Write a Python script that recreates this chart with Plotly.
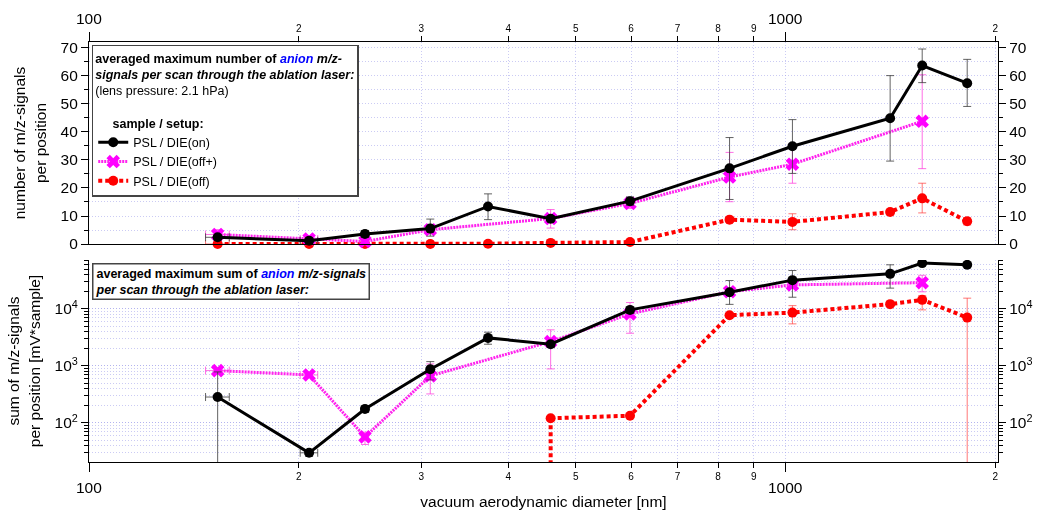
import math
import plotly.graph_objects as go

FONT = "Liberation Sans, Arial, sans-serif"

# ---------------- data ----------------
diameter_nm = [153, 207, 249, 309, 374, 460, 598, 831, 1023, 1413, 1571, 1823]
diameter_err = [6, 6, 3, 3, 0, 0, 0, 0, 0, 0, 0, 0]

# top panel: number of m/z-signals per position
on_num = [2.4, 1.2, 3.6, 5.5, 13.4, 9.0, 15.3, 27.0, 34.9, 44.9, 63.7, 57.4]
on_num_plus = [1.0, 0.8, 1.2, 3.4, 4.5, 1.0, 1.5, 11.0, 9.5, 15.2, 5.9, 8.5]
on_num_minus = [1.0, 0.8, 1.2, 2.7, 4.7, 1.0, 1.5, 11.1, 9.7, 15.3, 6.1, 8.3]

offp_num = [3.4, 1.8, 0.9, 5.1, None, 9.1, 14.5, 23.9, 28.5, None, 43.8, None]
offp_num_plus = [1.7, 0.8, 0.8, 1.5, 0, 3.2, 1.8, 8.8, 7.2, 0, 16.6, 0]
offp_num_minus = [1.7, 0.8, 0.8, 1.5, 0, 3.4, 1.8, 8.8, 6.8, 0, 16.9, 0]

off_num = [0, 0, 0, 0, 0.1, 0.4, 0.7, 8.7, 7.9, 11.4, 16.3, 8.1]
off_num_plus = [0, 0, 0, 0, 0, 0, 0, 1.0, 2.9, 1.0, 5.4, 1.3]
off_num_minus = [0, 0, 0, 0, 0, 0, 0, 1.0, 2.8, 1.0, 5.2, 1.3]

# bottom panel: sum of m/z-signals per position [mV*sample]
on_sum = [285, 30, 176, 875, 3100, 2400, 9600, 19600, 31900, 41100, 63400, 59200]
on_sum_plus = [500, 4, 20, 315, 800, 300, 1200, 11800, 15100, 18100, 0, 0]
on_sum_minus = [284, 4, 20, 307, 700, 300, 1200, 7600, 15900, 18000, 0, 0]

offp_sum = [828, 695, 57, 668, None, 2670, 8170, 20000, 26300, None, 28800, None]
offp_sum_plus = [0, 0, 12, 417, 0, 1620, 4730, 0, 3000, 0, 10000, 0]
offp_sum_minus = [0, 0, 15, 345, 0, 1784, 4430, 0, 3000, 0, 8900, 0]

off_sum = [None, None, None, None, None, 121, 134, 7750, 8600, 12100, 14400, 7030]
off_sum_plus = [0, 0, 0, 0, 0, 0, 0, 0, 2800, 0, 2700, 8370]
off_sum_minus = [0, 0, 0, 0, 0, 0, 0, 0, 3140, 0, 4800, 7029]

x_major = [100, 1000]
x_ticks = [200, 300, 400, 500, 600, 700, 800, 900, 2000]
x_ticktext = ["2", "3", "4", "5", "6", "7", "8", "9", "2"]
y_top_ticks = [0, 10, 20, 30, 40, 50, 60, 70]
y_top_minor = [5, 15, 25, 35, 45, 55, 65]
y_bot_ticks = [100, 1000, 10000]
y_bot_ticktext = ["10<sup>2</sup>", "10<sup>3</sup>", "10<sup>4</sup>"]

X_RANGE = [2.0, 3.305]
Y_TOP_RANGE = [0, 72.1]
Y_BOT_RANGE = [1.316, 4.857]

BLACK = "#000000"
PINK = "#FF22EE"
RED = "#FF0000"
GRID = "rgba(160,160,235,0.55)"
GRIDDASH = "1px,2px"

fig = go.Figure()

def errs(plus, minus, color, width=4):
    return dict(type="data", symmetric=False, array=plus, arrayminus=minus,
                color=color, thickness=1, width=width)

def xerrs(color):
    return dict(type="data", array=diameter_err, color=color, thickness=1, width=4)

# ---- top panel traces (drawn red, pink, black so black is on top) ----
fig.add_trace(go.Scatter(
    x=diameter_nm, y=off_num, name="PSL / DIE(off)", mode="lines+markers",
    line=dict(color=RED, width=4, dash="4px,3px"),
    marker=dict(symbol="circle", size=10, color=RED),
    error_y=errs(off_num_plus, off_num_minus, "rgba(255,60,60,0.7)"),
    error_x=xerrs("rgba(255,60,60,0.7)"),
    cliponaxis=False, xaxis="x", yaxis="y"))
fig.add_trace(go.Scatter(
    x=diameter_nm, y=offp_num, name="PSL / DIE(off+)", mode="lines+markers",
    connectgaps=True,
    line=dict(color=PINK, width=3, dash="2px,1px"),
    marker=dict(symbol="x", size=12, color="#FF00FF", line=dict(width=0)),
    error_y=errs(offp_num_plus, offp_num_minus, "rgba(255,60,220,0.75)"),
    error_x=xerrs("rgba(255,60,220,0.75)"),
    cliponaxis=False, xaxis="x", yaxis="y"))
fig.add_trace(go.Scatter(
    x=diameter_nm, y=on_num, name="PSL / DIE(on)", mode="lines+markers",
    line=dict(color=BLACK, width=3),
    marker=dict(symbol="circle", size=10, color=BLACK),
    error_y=errs(on_num_plus, on_num_minus, "rgba(60,60,60,0.8)"),
    error_x=xerrs("rgba(60,60,60,0.8)"),
    cliponaxis=False, xaxis="x", yaxis="y"))

# ---- bottom panel traces ----
first = next(i for i, v in enumerate(off_sum) if v is not None)
fig.add_trace(go.Scatter(
    x=[diameter_nm[first], diameter_nm[first]],
    y=[off_sum[first], 10 ** Y_BOT_RANGE[0]],
    mode="lines", line=dict(color=RED, width=4, dash="4px,3px"),
    showlegend=False, hoverinfo="skip", xaxis="x2", yaxis="y2"))
fig.add_trace(go.Scatter(
    x=diameter_nm, y=off_sum, mode="lines+markers", showlegend=False,
    line=dict(color=RED, width=4, dash="4px,3px"),
    marker=dict(symbol="circle", size=10, color=RED),
    error_y=errs(off_sum_plus, off_sum_minus, "rgba(255,60,60,0.7)"),
    xaxis="x2", yaxis="y2"))
fig.add_trace(go.Scatter(
    x=diameter_nm, y=offp_sum, mode="lines+markers", showlegend=False,
    connectgaps=True,
    line=dict(color=PINK, width=3, dash="2px,1px"),
    marker=dict(symbol="x", size=12, color="#FF00FF", line=dict(width=0)),
    error_y=errs(offp_sum_plus, offp_sum_minus, "rgba(255,60,220,0.75)"),
    error_x=xerrs("rgba(255,60,220,0.75)"),
    xaxis="x2", yaxis="y2"))
fig.add_trace(go.Scatter(
    x=diameter_nm, y=on_sum, mode="lines+markers", showlegend=False,
    line=dict(color=BLACK, width=3),
    marker=dict(symbol="circle", size=10, color=BLACK),
    error_y=errs(on_sum_plus, on_sum_minus, "rgba(60,60,60,0.8)"),
    error_x=xerrs("rgba(60,60,60,0.8)"),
    xaxis="x2", yaxis="y2"))

# invisible traces to activate right-hand axes
fig.add_trace(go.Scatter(x=diameter_nm, y=on_num, mode="markers", opacity=0,
                         showlegend=False, hoverinfo="skip", xaxis="x", yaxis="y3"))
fig.add_trace(go.Scatter(x=diameter_nm, y=on_sum, mode="markers", opacity=0,
                         showlegend=False, hoverinfo="skip", xaxis="x2", yaxis="y4"))

tickfont = dict(family=FONT, size=15.5, color="black")
smallfont = dict(family=FONT, size=10, color="black")

xcommon = dict(type="log", range=X_RANGE, tickmode="array", tickvals=x_ticks,
               ticktext=x_ticktext, tickfont=smallfont, ticks="outside",
               ticklen=5, tickcolor="black", showline=True, linecolor="black",
               linewidth=1.2, showgrid=True, gridcolor=GRID, griddash=GRIDDASH,
               gridwidth=1, zeroline=False, automargin=False,
               minor=dict(tickmode="array", tickvals=x_major, ticklen=9,
                          ticks="outside", tickcolor="black", showgrid=True,
                          gridcolor=GRID, griddash=GRIDDASH))

ycommon = dict(tickfont=tickfont, ticks="outside", ticklen=7, tickcolor="black",
               showline=True, linecolor="black", linewidth=1.2, zeroline=False,
               automargin=False)

fig.update_layout(
    width=1038, height=510,
    margin=dict(l=89, r=40, t=42, b=48),
    paper_bgcolor="white", plot_bgcolor="white",
    font=dict(family=FONT, color="black"),
    showlegend=True,
    xaxis=dict(**xcommon, side="top", anchor="y", mirror=True),
    xaxis2=dict(**xcommon, side="bottom", anchor="y2", mirror=False,
                title=dict(text="vacuum aerodynamic diameter [nm]",
                           font=dict(family=FONT, size=15.5), standoff=30)),
    yaxis=dict(**ycommon, domain=[0.519, 1], range=Y_TOP_RANGE, anchor="x",
               tickmode="array", tickvals=y_top_ticks,
               showgrid=True, gridcolor=GRID, griddash=GRIDDASH,
               minor=dict(tickmode="array", tickvals=y_top_minor, ticklen=4,
                          ticks="outside", tickcolor="black", showgrid=True,
                          gridcolor=GRID, griddash=GRIDDASH),
               title=dict(text="number of m/z-signals<br>per position",
                          font=dict(family=FONT, size=15.5), standoff=10)),
    yaxis3=dict(**ycommon, overlaying="y", side="right", anchor="x",
                range=Y_TOP_RANGE, tickmode="array", tickvals=y_top_ticks,
                showgrid=False,
                minor=dict(tickmode="array", tickvals=y_top_minor, ticklen=4,
                           ticks="outside", tickcolor="black", showgrid=False)),
    yaxis2=dict(**ycommon, domain=[0, 0.481], type="log", range=Y_BOT_RANGE,
                anchor="x2", tickmode="array", tickvals=y_bot_ticks,
                ticktext=y_bot_ticktext, showgrid=True, gridcolor=GRID,
                griddash=GRIDDASH,
                minor=dict(dtick="D1", ticklen=4, ticks="outside",
                           tickcolor="black", showgrid=True, gridcolor=GRID,
                           griddash=GRIDDASH),
                title=dict(text="sum of m/z-signals<br>per position [mV*sample]",
                           font=dict(family=FONT, size=15.5), standoff=10)),
    yaxis4=dict(**ycommon, overlaying="y2", side="right", anchor="x2",
                type="log", range=Y_BOT_RANGE, tickmode="array",
                tickvals=y_bot_ticks, ticktext=y_bot_ticktext, showgrid=False,
                minor=dict(dtick="D1", ticklen=4, ticks="outside",
                           tickcolor="black", showgrid=False)),
    legend=dict(
        x=0.003, y=0.993, xanchor="left", yanchor="top",
        bgcolor="white", bordercolor="#444444", borderwidth=1.5,
        traceorder="reversed", itemwidth=30, tracegroupgap=0,
        font=dict(family=FONT, size=12.5, color="black"),
        title=dict(
            text=("<b>averaged maximum number of <span style='color:#0000FF'><i>anion</i></span>"
                  " <i>m/z-</i></b><br><b><i>signals per scan through the ablation laser:</i></b>"
                  "<br>(lens pressure: 2.1 hPa)<br>\u00a0<br>\u00a0\u00a0\u00a0\u00a0\u00a0<b>sample / setup:</b>"),
            font=dict(family=FONT, size=12.5, color="black"), side="top"),
    ),
)

# large decade labels on both x axes
for v in x_major:
    fig.add_annotation(x=math.log10(v), y=1.0, xref="x", yref="paper",
                       yshift=24, text=str(v), showarrow=False,
                       font=dict(family=FONT, size=15.5), xanchor="center", yanchor="middle")
    fig.add_annotation(x=math.log10(v), y=0.0, xref="x2", yref="paper",
                       yshift=-25, text=str(v), showarrow=False,
                       font=dict(family=FONT, size=15.5), xanchor="center", yanchor="middle")

# bottom panel caption box
fig.add_annotation(
    x=0.003, y=0.474, xref="paper", yref="paper", xanchor="left", yanchor="top",
    align="left", showarrow=False, bgcolor="white", bordercolor="#444444",
    borderwidth=1.5, borderpad=2,
    text=("<b>averaged maximum sum of <span style='color:#0000FF'><i>anion</i></span>"
          " <i>m/z-signals</i><br><i>per scan through the ablation laser:</i></b>"),
    font=dict(family=FONT, size=12.5, color="black"))

fig.write_html("out.html")
